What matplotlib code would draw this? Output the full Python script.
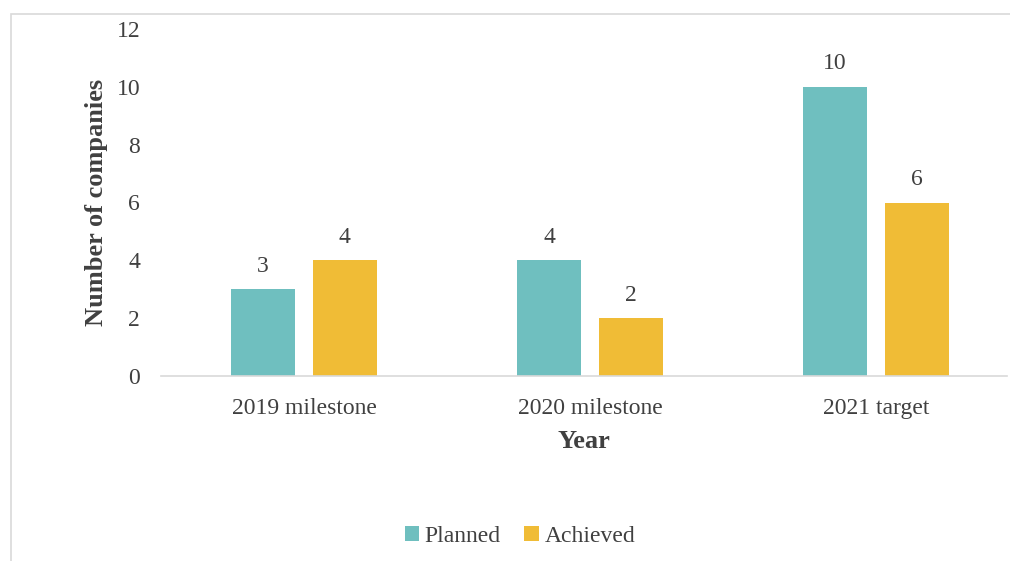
import numpy as np
import matplotlib.pyplot as plt
from matplotlib.patches import Rectangle

categories = ['2019 milestone', '2020 milestone', '2021 target']
planned = [3, 4, 10]
achieved = [4, 2, 6]

plt.rcParams['font.family'] = ['Liberation Serif', 'DejaVu Serif']
text_col = '#404040'
teal = '#6FBFBF'
gold = '#F0BC36'

W, H = 1010, 561
fig = plt.figure(figsize=(W / 100, H / 100), dpi=100)

# chart area border
fig.patches.append(Rectangle((11 / W, -0.1), 1.2, (H - 14) / H + 0.1, transform=fig.transFigure,
                             fill=False, edgecolor='#D9D9D9', linewidth=1.2))

left, right = 161, 1007
bottom, top = 376, 29
ax = fig.add_axes([left / W, (H - bottom) / H, (right - left) / W, (bottom - top) / H])

x = np.arange(len(categories))
off = 0.143
bw = 0.224
b1 = ax.bar(x - off, planned, bw, color=teal, label='Planned')
b2 = ax.bar(x + off, achieved, bw, color=gold, label='Achieved')

for bars, vals in ((b1, planned), (b2, achieved)):
    for rect, v in zip(bars, vals):
        ax.annotate(str(v), (rect.get_x() + rect.get_width() / 2, v), xytext=(0, 9),
                    textcoords='offset points', ha='center', va='bottom',
                    fontsize=17, color=text_col)

ax.set_xlim(-0.5, -0.5 + (right - left) / 286)
ax.set_ylim(0, 12)
ax.set_yticks(range(0, 13, 2))
ax.set_xticks(x)
ax.set_xticklabels(categories)
ax.tick_params(axis='both', length=0, labelsize=17, labelcolor=text_col)
ax.tick_params(axis='y', pad=15)
ax.tick_params(axis='x', pad=16)
for s in ['top', 'right', 'left']:
    ax.spines[s].set_visible(False)
ax.spines['bottom'].set_color('#D9D9D9')
ax.spines['bottom'].set_linewidth(1.2)

ax.set_xlabel('Year', fontsize=19, fontweight='bold', color=text_col, labelpad=8)
ax.set_ylabel('Number of companies', fontsize=19, fontweight='bold', color=text_col, labelpad=6)

fig.legend(handles=[b1, b2], loc='center', bbox_to_anchor=(520 / W, (H - 536) / H),
           ncol=2, frameon=False, fontsize=17, labelcolor=text_col,
           handlelength=0.6, handleheight=0.6, handletextpad=0.25, columnspacing=1.0)

fig.savefig('out.png', dpi=100)
